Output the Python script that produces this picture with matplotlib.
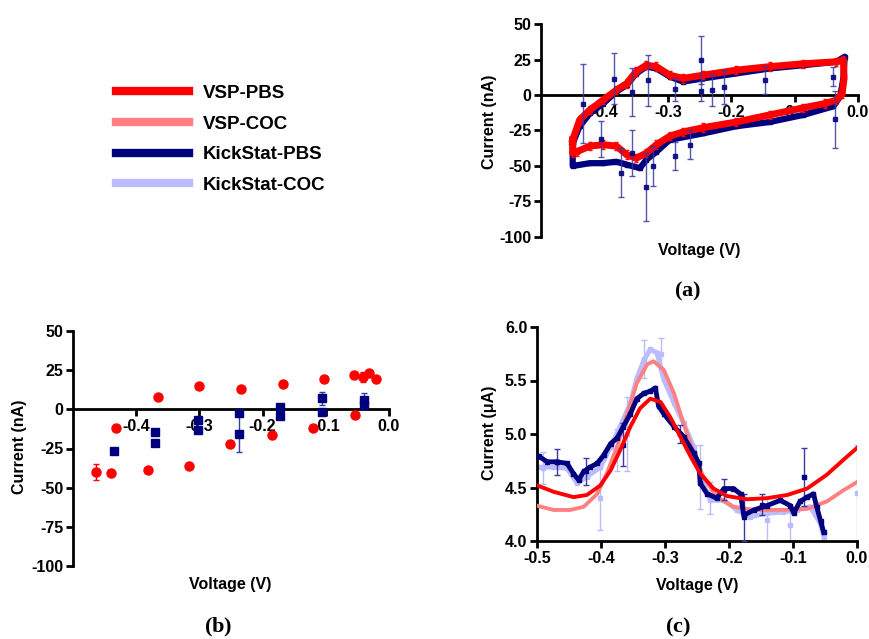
import matplotlib
matplotlib.use("Agg")
import matplotlib.pyplot as plt
from matplotlib.lines import Line2D

plt.rcParams['font.family'] = ['Liberation Sans', 'DejaVu Sans']
plt.rcParams['font.weight'] = 'bold'
plt.rcParams['axes.unicode_minus'] = False
plt.rcParams['mathtext.fontset'] = 'custom'
plt.rcParams['mathtext.rm'] = 'Liberation Serif'
plt.rcParams['mathtext.bf'] = 'Liberation Serif:bold'

W, H = 870, 639
RED = '#FF0000'
PINK = '#FF8080'
NAVY = '#00007F'
LBLUE = '#BBBBFF'

# ---------------- Panel (a) data : cyclic voltammograms (V, nA) ----------------
a_red_v = [-0.450, -0.439, -0.423, -0.402, -0.381, -0.365, -0.350, -0.334, -0.318, -0.297,
           -0.276, -0.244, -0.192, -0.139, -0.086, -0.034, -0.023, -0.022, -0.025,
           -0.034, -0.052, -0.086, -0.139, -0.192, -0.244, -0.276, -0.297, -0.318,
           -0.334, -0.350, -0.365, -0.381, -0.402, -0.423, -0.444, -0.450, -0.450]
a_red_i = [-31.6, -17.5, -10.5, -3.5, 3.5, 8.0, 16.4, 21.0, 20.0, 14.0,
           11.7, 14.0, 17.5, 20.0, 22.0, 23.4, 24.6, 12.0, 1.0,
           -3.5, -6.0, -9.0, -14.0, -19.0, -23.0, -26.0, -29.0, -35.0,
           -41.0, -44.5, -42.0, -36.0, -35.0, -36.0, -40.0, -41.0, -31.6]
a_red_err = 3.0

a_navy_v = [-0.450, -0.439, -0.423, -0.402, -0.381, -0.365, -0.350, -0.334, -0.318, -0.297,
            -0.276, -0.244, -0.192, -0.139, -0.086, -0.034, -0.021, -0.023, -0.028,
            -0.039, -0.086, -0.139, -0.192, -0.244, -0.297, -0.318, -0.334,
            -0.344, -0.365, -0.381, -0.402, -0.423, -0.450, -0.450]
a_navy_i = [-34.0, -22.0, -13.0, -6.0, 2.3, 7.0, 15.0, 20.0, 18.7, 13.0,
            9.4, 11.7, 15.2, 18.7, 21.0, 23.4, 27.0, 12.0, -1.0,
            -8.0, -14.0, -19.0, -22.0, -27.0, -31.6, -40.0, -45.7,
            -51.5, -49.0, -47.0, -48.0, -48.0, -50.0, -34.0]

a_eb_v = [-0.434, -0.3855, -0.405, -0.374, -0.356, -0.356, -0.335, -0.331, -0.323, -0.289,
          -0.288, -0.265, -0.248, -0.247, -0.230, -0.212, -0.147, -0.037, -0.040]
a_eb_i = [-6.0, 11.5, -31.0, -54.6, 2.3, -41.0, -65.0, 10.5, -50.0, 4.0,
          -43.0, -35.0, 24.6, 3.0, 3.5, 5.4, 10.5, -17.0, 13.0]
a_eb_e = [28.0, 18.0, 13.0, 17.0, 17.0, 16.0, 24.0, 18.0, 14.0, 8.0,
          10.0, 10.0, 17.0, 7.0, 11.0, 12.0, 10.0, 20.0, 7.0]

# ---------------- Panel (b) data : scatter (V, nA) ----------------
b_red_v = [-0.464, -0.440, -0.432, -0.382, -0.365, -0.316, -0.300, -0.252, -0.234,
           -0.185, -0.168, -0.120, -0.103, -0.054, -0.055, -0.041, -0.031, -0.020]
b_red_i = [-40.0, -40.7, -12.1, -38.6, 8.1, -36.4, 14.8, -22.0, 12.7,
           -16.7, 16.1, -11.9, 19.3, -3.6, 21.6, 20.8, 23.3, 19.3]
b_red_e = [5.3, 0, 0, 0, 0, 0, 0, 0, 0,
           0, 0, 0, 0, 0, 0, 3.2, 0, 0]

b_navy_v = [-0.435, -0.370, -0.370, -0.303, -0.303, -0.237, -0.237,
            -0.172, -0.172, -0.106, -0.106, -0.040, -0.040]
b_navy_i = [-26.9, -14.2, -21.6, -6.8, -13.1, -2.1, -15.7,
            1.7, -4.2, 7.0, -1.5, 5.9, 2.8]
b_navy_e = [0, 0, 0, 0, 0, 0, 11.6,
            0, 0, 4.2, 0, 4.5, 0]

# ---------------- Panel (c) data : square-wave (V, uA) ----------------
c_vsp_pbs_v = [-0.500, -0.474, -0.443, -0.422, -0.401, -0.385, -0.370, -0.354, -0.339, -0.323,
               -0.307, -0.292, -0.276, -0.260, -0.245, -0.224, -0.203, -0.172, -0.141, -0.109,
               -0.078, -0.047, -0.021, 0.000]
c_vsp_pbs_i = [4.52, 4.46, 4.41, 4.43, 4.52, 4.66, 4.85, 5.07, 5.24, 5.33,
               5.30, 5.16, 4.975, 4.79, 4.63, 4.49, 4.42, 4.39, 4.40, 4.43,
               4.49, 4.62, 4.76, 4.87]

c_vsp_coc_v = [-0.500, -0.474, -0.448, -0.427, -0.406, -0.391, -0.375, -0.359, -0.344, -0.328,
               -0.318, -0.302, -0.286, -0.271, -0.255, -0.240, -0.219, -0.193, -0.161, -0.120,
               -0.078, -0.047, -0.021, 0.000]
c_vsp_coc_i = [4.33, 4.29, 4.29, 4.32, 4.44, 4.63, 4.88, 5.19, 5.475, 5.65,
               5.68, 5.60, 5.38, 5.10, 4.82, 4.60, 4.41, 4.32, 4.29, 4.29,
               4.30, 4.37, 4.475, 4.55]

c_ks_pbs_v = [-0.497, -0.484, -0.469, -0.453, -0.443, -0.435, -0.427, -0.417, -0.406, -0.396,
              -0.385, -0.375, -0.365, -0.354, -0.344, -0.333, -0.323, -0.315, -0.310, -0.302,
              -0.286, -0.271, -0.255, -0.247, -0.245, -0.234, -0.219, -0.208, -0.193, -0.182,
              -0.177, -0.161, -0.141, -0.120, -0.104, -0.099, -0.089, -0.078, -0.068, -0.063,
              -0.057, -0.052]
c_ks_pbs_i = [4.79, 4.74, 4.74, 4.725, 4.63, 4.57, 4.65, 4.69, 4.725, 4.80,
              4.91, 4.96, 5.07, 5.19, 5.33, 5.38, 5.40, 5.43, 5.26, 5.19,
              5.07, 4.975, 4.82, 4.725, 4.54, 4.44, 4.40, 4.49, 4.49, 4.44,
              4.24, 4.29, 4.33, 4.38, 4.33, 4.26, 4.37, 4.41, 4.44, 4.32,
              4.19, 4.08]

c_ks_coc_v = [-0.497, -0.474, -0.453, -0.4375, -0.422, -0.401, -0.385, -0.370, -0.354, -0.344,
              -0.333, -0.323, -0.3125, -0.302, -0.286, -0.271, -0.255, -0.245, -0.229, -0.208,
              -0.1875, -0.167, -0.141, -0.115, -0.094, -0.073, -0.057, -0.052]
c_ks_coc_i = [4.69, 4.69, 4.68, 4.54, 4.60, 4.69, 4.88, 5.07, 5.29, 5.52,
              5.69, 5.79, 5.76, 5.51, 5.29, 5.10, 4.88, 4.60, 4.38, 4.38,
              4.29, 4.225, 4.26, 4.27, 4.29, 4.32, 4.16, 4.04]

c_navy_eb_v = [-0.469, -0.424, -0.365, -0.276, -0.208, -0.177, -0.148, -0.083]
c_navy_eb_i = [4.74, 4.65, 4.90, 5.00, 4.48, 4.22, 4.34, 4.60]
c_navy_eb_e = [0.12, 0.13, 0.20, 0.08, 0.10, 0.22, 0.10, 0.27]

c_lb_eb_v = [-0.490, -0.401, -0.375, -0.359, -0.333, -0.307, -0.245, -0.229, -0.141, -0.104, 0.000]
c_lb_eb_i = [4.68, 4.40, 4.85, 5.00, 5.70, 5.75, 4.60, 4.40, 4.20, 4.15, 4.45]
c_lb_eb_e = [0.15, 0.30, 0.20, 0.35, 0.18, 0.15, 0.30, 0.15, 0.20, 0.15, 0.45]

legend_labels = ['VSP-PBS', 'VSP-COC', 'KickStat-PBS', 'KickStat-COC']

fig = plt.figure(figsize=(W / 100, H / 100), dpi=100)


def px_axes(l, t, r, b):
    return fig.add_axes([l / W, 1 - b / H, (r - l) / W, (b - t) / H])


TICK_FS = 11.5
LAB_FS = 11.5


def style(ax, zero_axis):
    for s in ['top', 'right']:
        ax.spines[s].set_visible(False)
    for s in ['left', 'bottom']:
        ax.spines[s].set_linewidth(2.0)
    if zero_axis:
        ax.spines['bottom'].set_position(('data', 0))
    ax.tick_params(axis='both', which='major', direction='out', length=5, width=2.0,
                   labelsize=TICK_FS, pad=2)
    for lab in ax.get_xticklabels() + ax.get_yticklabels():
        lab.set_fontweight('bold')
    ax.set_axisbelow(True)


# ---------------- (a) ----------------
axa = px_axes(541, 24, 858, 237)
axa.plot(a_navy_v, a_navy_i, color=NAVY, lw=4.5, marker='s', ms=3.5, zorder=2)
axa.errorbar(a_red_v, a_red_i, yerr=a_red_err, color=RED, lw=5, marker='s', ms=3.5,
             elinewidth=1, capsize=1.5, zorder=3)
axa.errorbar(a_eb_v, a_eb_i, yerr=a_eb_e, fmt='s', color=NAVY, ms=3, ecolor='#3a3aa0',
             elinewidth=1, capsize=2, alpha=0.85, zorder=4)
axa.set_xlim(-0.5, 0.0)
axa.set_ylim(-100, 50)
axa.set_xticks([-0.4, -0.3, -0.2, -0.1, 0.0])
axa.set_xticklabels(['-0.4', '-0.3', '-0.2', '-0.1', '0.0'])
axa.set_yticks([-100, -75, -50, -25, 0, 25, 50])
style(axa, True)
axa.set_xlabel('Voltage (V)', fontsize=LAB_FS, fontweight='bold')
axa.set_ylabel('Current (nA)', fontsize=LAB_FS, fontweight='bold')
axa.xaxis.set_label_coords(0.5, -0.028)
axa.yaxis.set_label_coords(-0.139, 0.54)

# ---------------- (b) ----------------
axb = px_axes(73, 331, 389, 566)
axb.errorbar(b_red_v, b_red_i, yerr=b_red_e, fmt='o', color=RED, ms=6.5,
             elinewidth=1, capsize=2.5, zorder=3)
axb.errorbar(b_navy_v, b_navy_i, yerr=b_navy_e, fmt='s', color=NAVY, ms=5.5,
             ecolor='#3a3aa0', elinewidth=1, capsize=2.5, zorder=3)
axb.set_xlim(-0.5, 0.0)
axb.set_ylim(-100, 50)
axb.set_xticks([-0.4, -0.3, -0.2, -0.1, 0.0])
axb.set_xticklabels(['-0.4', '-0.3', '-0.2', '-0.1', '0.0'])
axb.set_yticks([-100, -75, -50, -25, 0, 25, 50])
style(axb, True)
axb.set_xlabel('Voltage (V)', fontsize=LAB_FS, fontweight='bold')
axb.set_ylabel('Current (nA)', fontsize=LAB_FS, fontweight='bold')
axb.xaxis.set_label_coords(0.497, -0.047)
axb.yaxis.set_label_coords(-0.146, 0.506)

# ---------------- (c) ----------------
axc = px_axes(537, 327, 857, 541)
axc.errorbar(c_lb_eb_v, c_lb_eb_i, yerr=c_lb_eb_e, fmt='s', color=LBLUE, ms=2.5,
             elinewidth=1, capsize=2, zorder=2)
axc.plot(c_ks_coc_v, c_ks_coc_i, color=LBLUE, lw=3.5, marker='s', ms=3, zorder=2)
axc.plot(c_vsp_coc_v, c_vsp_coc_i, color=PINK, lw=2.8, zorder=3)
axc.errorbar(c_navy_eb_v, c_navy_eb_i, yerr=c_navy_eb_e, fmt='s', color=NAVY, ms=2.5,
             ecolor='#3a3aa0', elinewidth=1, capsize=2, zorder=4)
axc.plot(c_ks_pbs_v, c_ks_pbs_i, color=NAVY, lw=3.5, marker='s', ms=3.5, zorder=4)
axc.plot(c_vsp_pbs_v, c_vsp_pbs_i, color=RED, lw=2.8, zorder=5)
axc.set_xlim(-0.5, 0.0)
axc.set_ylim(4.0, 6.0)
axc.set_xticks([-0.5, -0.4, -0.3, -0.2, -0.1, 0.0])
axc.set_xticklabels(['-0.5', '-0.4', '-0.3', '-0.2', '-0.1', '0.0'])
axc.set_yticks([4.0, 4.5, 5.0, 5.5, 6.0])
axc.set_yticklabels(['4.0', '4.5', '5.0', '5.5', '6.0'])
style(axc, False)
axc.set_xlabel('Voltage (V)', fontsize=LAB_FS, fontweight='bold')
axc.set_ylabel('Current (\u03bcA)', fontsize=LAB_FS, fontweight='bold')
axc.xaxis.set_label_coords(0.5, -0.173)
axc.yaxis.set_label_coords(-0.125, 0.505)

# ---------------- legend ----------------
handles = [Line2D([], [], color=c, lw=6) for c in [RED, PINK, NAVY, LBLUE]]
fig.legend(handles, legend_labels, loc='upper left', bbox_to_anchor=(99 / W, 1 - 68 / H),
           frameon=False, handlelength=3.9, handletextpad=0.75, labelspacing=0.72,
           prop={'family': 'Liberation Sans', 'weight': 'bold', 'size': 13.5})

# ---------------- panel letters ----------------
for x, y, letter in [(688, 291, 'a'), (218, 627, 'b'), (678, 627, 'c')]:
    fig.text(x / W, 1 - y / H, r'$(\mathbf{' + letter + r'})$', ha='center', va='center',
             fontsize=16)

fig.savefig('out.png', dpi=100)
